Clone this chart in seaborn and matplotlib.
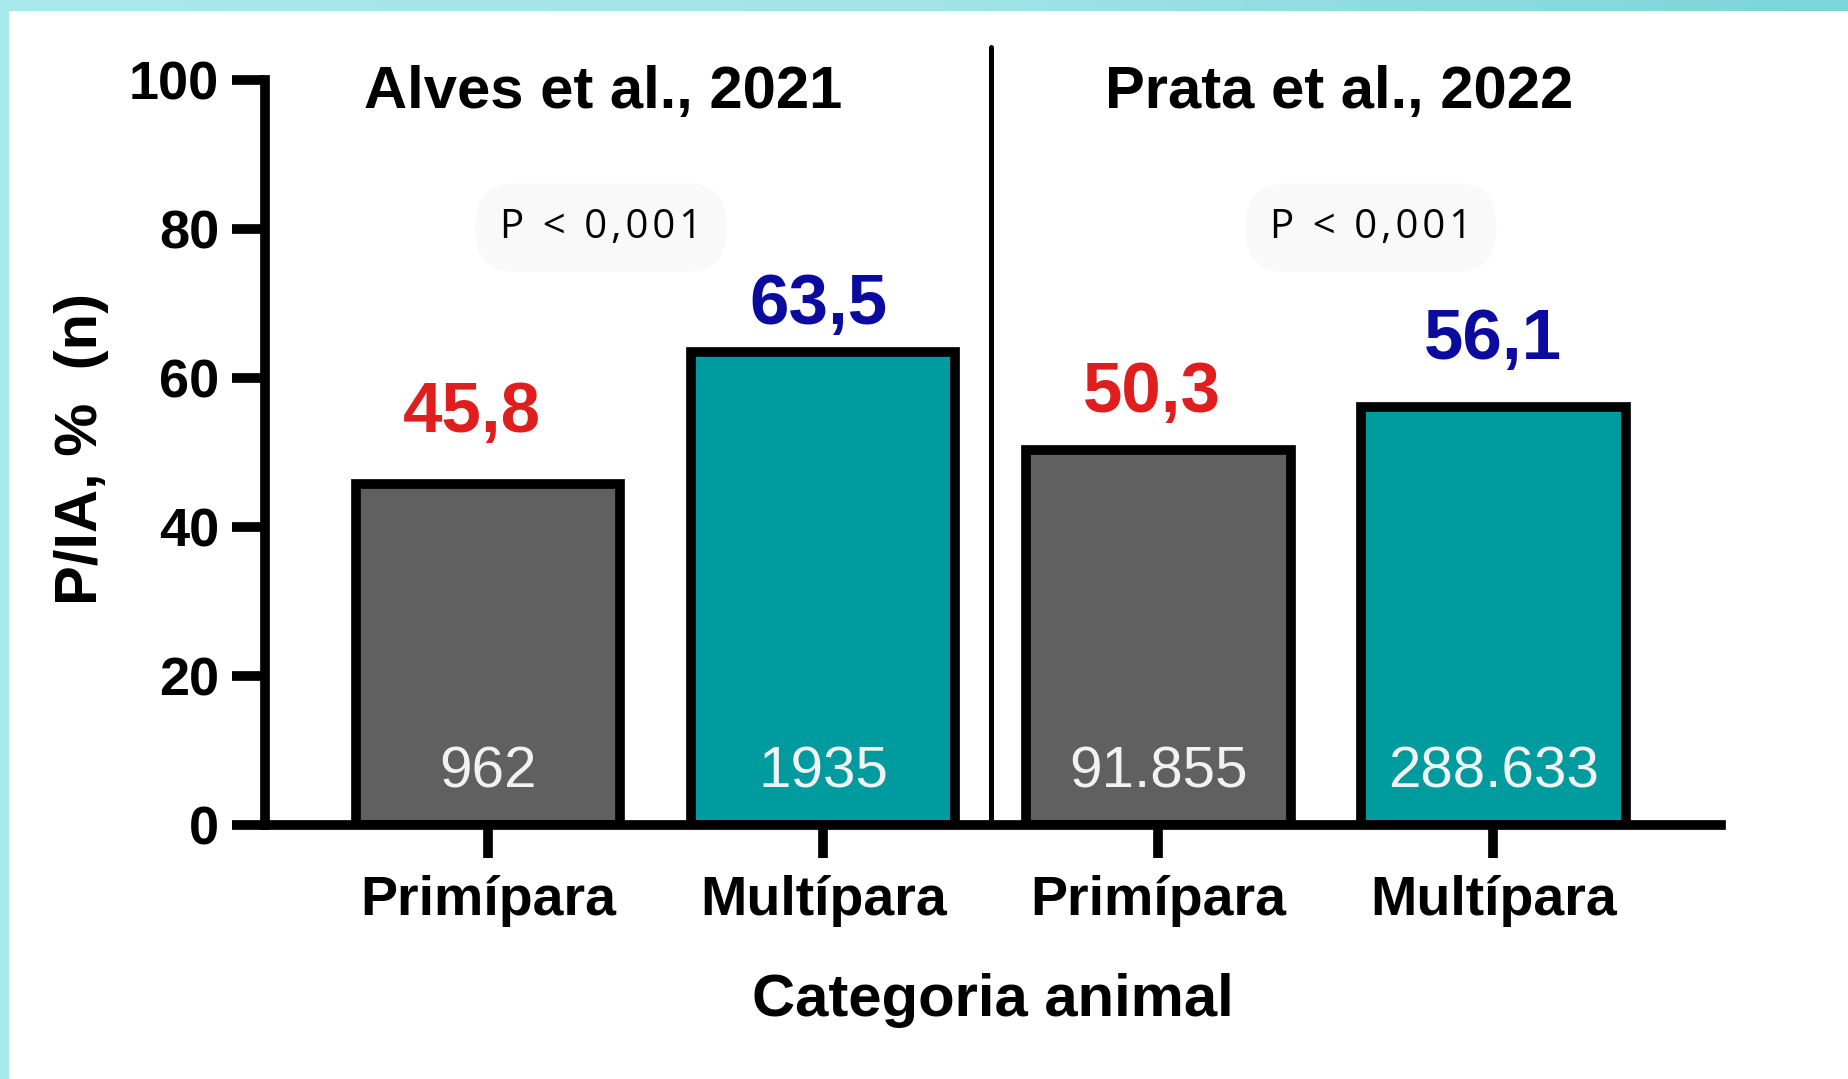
import numpy as np
import pandas as pd
import seaborn as sns
import matplotlib.pyplot as plt
from matplotlib.colors import LinearSegmentedColormap
from matplotlib.patches import Rectangle

# dados
estudos = ["Alves et al., 2021", "Prata et al., 2022"]
grupos = ["Alves_Prim", "Alves_Mult", "Prata_Prim", "Prata_Mult"]
categorias = ["Primípara", "Multípara", "Primípara", "Multípara"]
pia = [45.8, 63.5, 50.3, 56.1]
pia_rotulos = ["45,8", "63,5", "50,3", "56,1"]
n_animais = ["962", "1935", "91.855", "288.633"]
p_valores = ["P < 0,001", "P < 0,001"]
y_ticks = [0, 20, 40, 60, 80, 100]

# layout (posicoes dos textos em coordenadas de dados)
titulo_x = [0.343, 2.54]
p_x = [0.337, 2.635]
rotulo_dy = [7.0, 3.7, 5.1, 6.4]
rotulo_dx = [-0.05, -0.015, -0.018, 0.0]

cores_barra = {"Primípara": "#606060", "Multípara": "#009B9E"}
cores_rotulo = {"Primípara": "#E01E1E", "Multípara": "#0B0BA0"}

sns.set_theme(style="ticks")
plt.rcParams["font.family"] = ["Liberation Sans", "DejaVu Sans"]

df = pd.DataFrame({"grupo": grupos, "categoria": categorias, "pia": pia})

fig = plt.figure(figsize=(18.48, 10.79), dpi=100)
fig.patch.set_facecolor("white")

# moldura ciano (topo com degrade e lateral esquerda)
band = fig.add_axes([0, 1 - 11 / 1079, 1, 11 / 1079])
cmap = LinearSegmentedColormap.from_list("faixa", ["#A8E9EC", "#A2E4E8", "#7CD5D9"])
band.imshow(np.linspace(0, 1, 256)[None, :], aspect="auto", cmap=cmap)
band.axis("off")
fig.patches.append(Rectangle((0, 0), 8 / 1848, 1, transform=fig.transFigure,
                             color="#A8E9EC", zorder=0))

ax = fig.add_axes([0.1434, 0.2354, 0.7879, 0.6905])
sns.barplot(data=df, x="grupo", y="pia", hue="categoria", palette=cores_barra,
            dodge=False, width=0.79, edgecolor="black", linewidth=7,
            saturation=1, errorbar=None, legend=False, ax=ax)

ax.set_xlim(-0.666, 3.68)
ax.set_ylim(0, 100)
ax.set_yticks(y_ticks)
ax.set_yticklabels([str(v) for v in y_ticks], fontsize=39, fontweight="bold")
ax.set_xticks(range(len(categorias)))
ax.set_xticklabels(categorias, fontsize=40, fontweight="bold")
ax.tick_params(axis="both", width=7, length=24, color="black", labelcolor="black")
ax.tick_params(axis="x", pad=12)
ax.tick_params(axis="y", pad=9)

sns.despine(ax=ax)
for side in ["left", "bottom"]:
    ax.spines[side].set_linewidth(7)
    ax.spines[side].set_color("black")

ax.set_xlabel("Categoria animal", fontsize=43, fontweight="bold", color="black")
ax.xaxis.set_label_coords(0.5, -0.198)
ax.set_ylabel("P/IA, %  (n)", fontsize=43, fontweight="bold", color="black")
ax.yaxis.set_label_coords(-0.107, 0.505)

# linha divisoria entre os estudos
ax.plot([1.5, 1.5], [0, 104.4], color="black", lw=3.6, clip_on=False, zorder=1)

for x, t in zip(titulo_x, estudos):
    ax.text(x, 96.2, t, ha="center", va="baseline", fontsize=43,
            fontweight="bold", color="black")

# texto do P com espacamento entre letras (hair space)
for x, t in zip(p_x, p_valores):
    espacado = "\u200a".join(t)
    ax.text(x, 78.8, espacado, ha="center", va="baseline", fontsize=29,
            family=["Open Sans", "DejaVu Sans"], color="black",
            bbox=dict(boxstyle="round,pad=0.6,rounding_size=1.0",
                      fc="#F9F9F9", ec="none"))

for i, (v, lab, n, cat) in enumerate(zip(pia, pia_rotulos, n_animais, categorias)):
    ax.text(i + rotulo_dx[i], v + rotulo_dy[i], lab, ha="center", va="baseline",
            fontsize=51, fontweight="bold", color=cores_rotulo[cat])
    ax.text(i, 5.1, n, ha="center", va="baseline", fontsize=42, color="#F2F2F2")

fig.savefig("out.png", dpi=100, facecolor="white")
